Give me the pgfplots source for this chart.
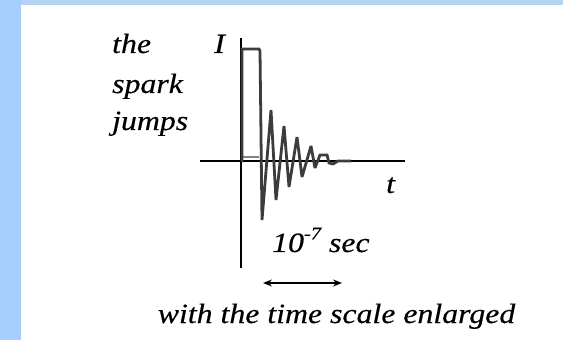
\documentclass[border=0pt]{standalone}
\usepackage{fontspec}
\setmainfont{Liberation Serif}
\usepackage{pgfplots}
\pgfplotsset{compat=1.18}
\usetikzlibrary{arrows.meta}

\definecolor{frameblue}{RGB}{166,206,252}
\definecolor{topblue}{RGB}{180,211,242}
\definecolor{wave}{RGB}{60,60,60}
\definecolor{wavelight}{RGB}{130,130,130}

% damped current of the spark, in units of the drawing grid
\pgfplotstableread{
t    I
0    0
1    0
1    112
18   112
19   110
21   -59
30   51
35   -39
43   35
48   -26
56   24
61   -16
70   15
74   -7
79   6
86   6
88   -2
92   -3
97   0
110  0
}\sparkcurrent

\newcommand{\lbl}{\fontsize{28}{30}\selectfont\itshape\addfontfeatures{FakeStretch=1.14,FakeBold=0.4}}

\begin{document}
\begin{tikzpicture}
\useasboundingbox (0,0) rectangle (563bp,340bp);
\fill[white] (0,0) rectangle (563bp,340bp);
\fill[topblue] (0,335bp) rectangle (563bp,340bp);
\fill[frameblue] (0,0) rectangle (21bp,340bp);

\begin{axis}[
  at={(200bp,72bp)}, anchor=south west,
  scale only axis, width=205bp, height=230bp,
  xmin=-41, xmax=164, ymin=-107, ymax=123,
  axis lines=middle,
  axis line style={-, line width=1.9pt, black},
  xtick=\empty, ytick=\empty,
  clip=false,
]
  \addplot[wavelight, line width=1.4pt] coordinates {(1,4) (18,4)};
  \addplot[wave, line width=2.8pt, line join=miter, miter limit=3] table[x=t, y=I] {\sparkcurrent};
\end{axis}

% labels
\node[anchor=base west, inner sep=0] at (112bp,287bp) {\lbl the};
\node[anchor=base west, inner sep=0] at (112bp,247bp) {\lbl spark};
\node[anchor=base west, inner sep=0] at (112bp,210bp) {\lbl jumps};
\node[anchor=base west, inner sep=0] at (214bp,287bp) {\lbl I};
\node[anchor=base west, inner sep=0] at (386bp,147bp) {\lbl t};
\node[anchor=base west, inner sep=0] at (272bp,88bp) {\lbl 10\raisebox{0.45em}{\fontsize{18}{20}\selectfont -7} sec};
\draw[{Stealth[length=9bp,width=7bp]}-{Stealth[length=9bp,width=7bp]}, line width=1.4pt] (263bp,57bp) -- (342bp,57bp);
\node[anchor=base, inner sep=0] at (336.5bp,17bp) {\lbl with the time scale enlarged};
\end{tikzpicture}
\end{document}
